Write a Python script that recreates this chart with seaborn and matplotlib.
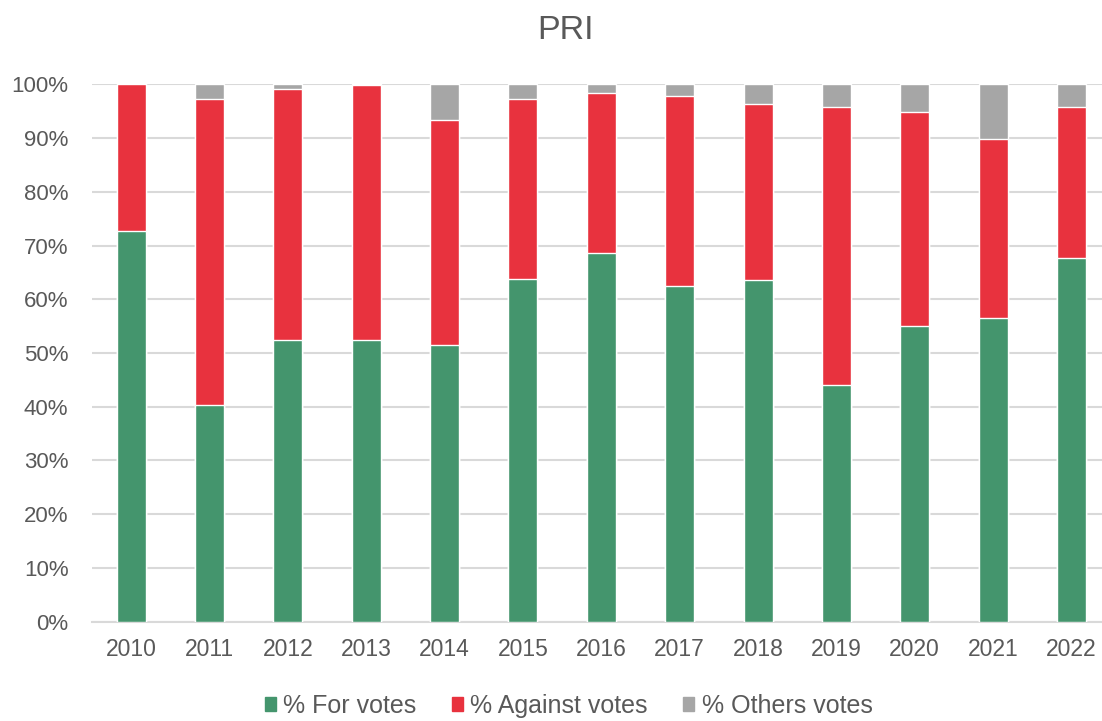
import pandas as pd
import matplotlib
matplotlib.use('Agg')
import matplotlib.pyplot as plt
import matplotlib.patches as mpatches
from matplotlib.ticker import PercentFormatter
import seaborn as sns

years = ['2010', '2011', '2012', '2013', '2014', '2015', '2016',
         '2017', '2018', '2019', '2020', '2021', '2022']
for_votes = [72.7, 40.4, 52.5, 52.5, 51.5, 63.7, 68.7, 62.5, 63.5, 44.0, 55.0, 56.5, 67.7]
against_votes = [27.3, 56.9, 46.6, 47.3, 41.8, 33.6, 29.6, 35.3, 32.8, 51.8, 39.8, 33.3, 28.1]
others_votes = [0.0, 2.7, 0.9, 0.2, 6.7, 2.7, 1.7, 2.2, 3.7, 4.2, 5.2, 10.2, 4.2]

green = '#44956D'
red = '#E8323E'
grey = '#A6A6A6'
txt = '#595959'

df = pd.DataFrame({'year': years, 'for': for_votes,
                   'against': against_votes, 'others': others_votes})
df['for_against'] = df['for'] + df['against']
df['total'] = df['for_against'] + df['others']

sns.set_style('white')
plt.rcParams['font.family'] = ['Liberation Sans', 'DejaVu Sans']

fig = plt.figure(figsize=(11.02, 7.21), dpi=100)
ax = fig.add_axes([0.0835, 0.1377, 0.9165, 0.7454])

# stacked bars: draw cumulative totals from back to front
sns.barplot(data=df, x='year', y='total', color=grey, width=0.37,
            saturation=1, ax=ax, zorder=2)
sns.barplot(data=df, x='year', y='for_against', color=red, width=0.37,
            saturation=1, ax=ax, zorder=3)
sns.barplot(data=df, x='year', y='for', color=green, width=0.37,
            saturation=1, ax=ax, zorder=4)

ax.set_ylim(0, 100)
ax.set_xlim(-0.5, 12.39)
ax.set_yticks(range(0, 101, 10))
ax.yaxis.set_major_formatter(PercentFormatter(decimals=0))
ax.grid(axis='y', color='#D9D9D9', linewidth=1.5, zorder=0)
ax.set_axisbelow(True)
for s in ['top', 'right', 'left']:
    ax.spines[s].set_visible(False)
ax.spines['bottom'].set_color('#D9D9D9')
ax.spines['bottom'].set_linewidth(1.5)
ax.tick_params(axis='y', length=0, pad=17, labelsize=16, labelcolor=txt)
ax.tick_params(axis='x', length=0, pad=12, labelsize=16.5, labelcolor=txt)
ax.set_xlabel('')
ax.set_ylabel('')

fig.text(0.513, 0.958, 'PRI', ha='center', va='center', fontsize=24.5, color=txt)

handles = [mpatches.Patch(color=green, label='% For votes'),
           mpatches.Patch(color=red, label='% Against votes'),
           mpatches.Patch(color=grey, label='% Others votes')]
fig.legend(handles=handles, loc='center', bbox_to_anchor=(0.516, 0.021),
           ncol=3, frameon=False, fontsize=18, labelcolor=txt,
           handlelength=0.45, handleheight=0.45, handletextpad=0.3,
           columnspacing=1.4)

fig.savefig('out.png', dpi=100)
